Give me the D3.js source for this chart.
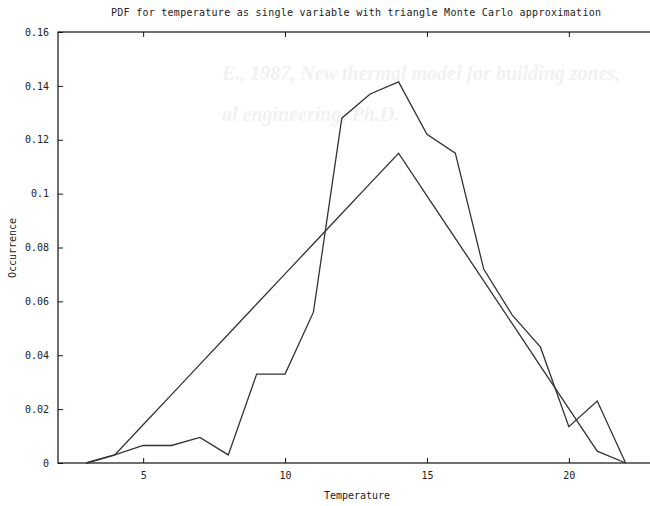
<!DOCTYPE html>
<html>
<head>
<meta charset="utf-8">
<script src="https://cdn.jsdelivr.net/npm/d3@7.9.0/dist/d3.min.js"></script>
<style>
  html, body { margin: 0; padding: 0; background: #fff; overflow: hidden; }
  text { font-family: "DejaVu Sans Mono", monospace; font-size: 10px; fill: #222; }
  .bleed { font-family: "Liberation Serif", serif; font-style: italic; font-weight: bold; font-size: 20px; fill: #000; opacity: 0.05; }
</style>
</head>
<body>
<svg id="chart" width="650" height="506"></svg>
<script>
const temps = [3, 4, 5, 6, 7, 8, 9, 10, 11, 12, 13, 14, 15, 16, 17, 18, 19, 20, 21, 22];
const monteCarlo = [0, 0.003, 0.0065, 0.0065, 0.0095, 0.003, 0.033, 0.033, 0.056, 0.128,
  0.137, 0.1415, 0.122, 0.115, 0.072, 0.055, 0.043, 0.0135, 0.023, 0];
const triangle = [0, 0.003, 0.0142, 0.0254, 0.0366, 0.0478, 0.059, 0.0702, 0.0814, 0.0926,
  0.1038, 0.115, 0.0992, 0.0834, 0.0676, 0.0518, 0.036, 0.0202, 0.0044, 0];
const xTicks = [5, 10, 15, 20];
const yTicks = [0, 0.02, 0.04, 0.06, 0.08, 0.1, 0.12, 0.14, 0.16];

const svg = d3.select('#chart');
const plotLeft = 58, plotRight = 654, plotTop = 32, plotBottom = 463;

const x = d3.scaleLinear().domain([2, 23]).range([plotLeft, plotRight]);
const y = d3.scaleLinear().domain([0, 0.16]).range([plotBottom, plotTop]);

// faint show-through from the scanned page
svg.append('text').attr('class', 'bleed').attr('x', 222).attr('y', 80)
  .text('E., 1987, New thermal model for building zones,');
svg.append('text').attr('class', 'bleed').attr('x', 222).attr('y', 121)
  .text('al engineering, Ph.D.');

// frame
svg.append('rect')
  .attr('x', plotLeft).attr('y', plotTop)
  .attr('width', plotRight - plotLeft).attr('height', plotBottom - plotTop)
  .attr('fill', 'none').attr('stroke', '#111').attr('stroke-width', 1.2);

// axes, ticks pointing inward like gnuplot
const xAxis = svg.append('g').attr('transform', `translate(0,${plotBottom})`)
  .call(d3.axisBottom(x).tickValues(xTicks).tickSizeInner(-5).tickSizeOuter(0).tickPadding(9));
const xTop = svg.append('g').attr('transform', `translate(0,${plotTop})`)
  .call(d3.axisTop(x).tickValues(xTicks).tickSizeInner(-5).tickSizeOuter(0).tickFormat(''));
const yAxis = svg.append('g').attr('transform', `translate(${plotLeft},0)`)
  .call(d3.axisLeft(y).tickValues(yTicks).tickSizeInner(-5).tickSizeOuter(0).tickPadding(9)
    .tickFormat(d => d === 0 ? '0' : String(+d.toFixed(2))));

[xAxis, xTop, yAxis].forEach(g => {
  g.select('.domain').remove();
  g.selectAll('line').attr('stroke', '#111');
  g.selectAll('text').attr('font-family', '"DejaVu Sans Mono", monospace').attr('font-size', 10).attr('fill', '#222');
});

const line = d3.line().x((d, i) => x(temps[i])).y(d => y(d));

svg.append('path').datum(triangle)
  .attr('d', line).attr('fill', 'none').attr('stroke', '#333').attr('stroke-width', 1.3);
svg.append('path').datum(monteCarlo)
  .attr('d', line).attr('fill', 'none').attr('stroke', '#333').attr('stroke-width', 1.3);

// titles
svg.append('text').attr('x', 356).attr('y', 16).attr('text-anchor', 'middle')
  .attr('textLength', 490)
  .text('PDF for temperature as single variable with triangle Monte Carlo approximation');
svg.append('text').attr('x', 357).attr('y', 499).attr('text-anchor', 'middle')
  .text('Temperature');
svg.append('text').attr('transform', 'translate(16,248) rotate(-90)').attr('text-anchor', 'middle')
  .text('Occurrence');
</script>
</body>
</html>
